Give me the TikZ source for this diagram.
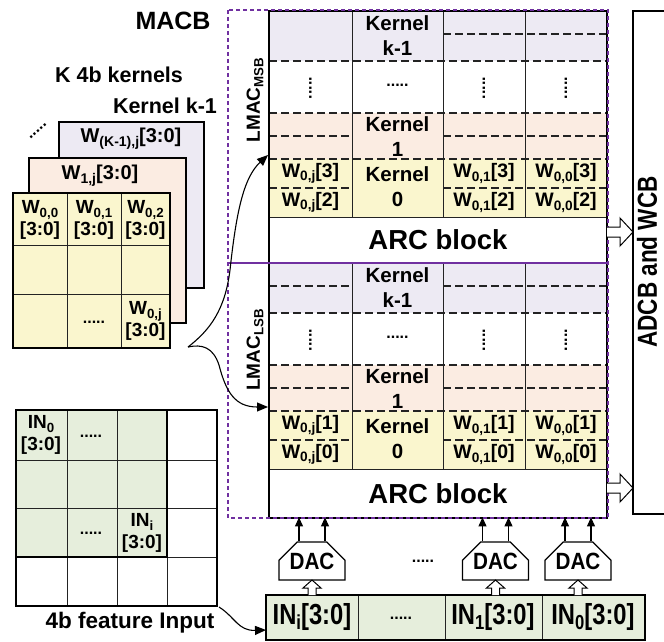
\documentclass[tikz,border=0pt]{standalone}
\usepackage{fontspec}
\setmainfont{Liberation Sans}
\newfontfamily\condA[FakeStretch=0.82]{Liberation Sans}
\newfontfamily\condB[FakeStretch=0.88]{Liberation Sans}
\usetikzlibrary{arrows.meta,shapes.misc}
\definecolor{lav}{RGB}{237,234,243}
\definecolor{pnk}{RGB}{251,236,226}
\definecolor{ylw}{RGB}{250,246,206}
\definecolor{grn}{RGB}{230,238,220}
\definecolor{purp}{RGB}{112,48,160}
\definecolor{dk}{RGB}{35,35,35}
\newcommand\sbs[1]{\raisebox{-0.35ex}{\scalebox{0.7}{#1}}}
\newcommand\fs[2]{\fontsize{#1}{#2}\selectfont}
\newcommand\lmacblock[6]{%
 \fill[lav] (269,11) rectangle (607,61);
 \fill[pnk] (269,113) rectangle (607,159);
 \fill[ylw] (269,159) rectangle (607,217);
 \draw[dsh] (269,61)--(607,61) (269,113)--(607,113) (269,159)--(607,159)
   (443,34)--(607,34) (269,136)--(352,136) (443,136)--(607,136)
   (269,188)--(352,188) (443,188)--(607,188);
 \ifnum#3=1 \draw[dsh] (269,34)--(352,34);\fi
 \draw[thn] (352,11)--(352,217) (443,11)--(443,217) (525,11)--(525,217) (269,217)--(607,217);
 \draw[line width=1.8pt] (269,11) rectangle (607,#2);
 \node[t20] (#1kk) at (397.5,36) {Kernel\\k-1};
 \node[t20] (#1k1) at (397.5,137) {Kernel\\1};
 \node[t20] (#1k0) at (397.5,187) {Kernel\\0};
 \node[tdots] (#1dm) at (397.5,85) {.....};
 \node[tdots,rotate=90] (#1da) at (310.5,88) {.....};
 \node[tdots,rotate=90] (#1db) at (484,88) {.....};
 \node[tdots,rotate=90] (#1dc) at (566,88) {.....};
 \node[t18] (#1ah) at (310.5,173.5) {W\sbs{0,j}[#4]};
 \node[t18] (#1al) at (310.5,202.5) {W\sbs{0,j}[#5]};
 \node[t18] (#1bh) at (484,173.5) {W\sbs{0,1}[#4]};
 \node[t18] (#1bl) at (484,202.5) {W\sbs{0,1}[#5]};
 \node[t18] (#1ch) at (566,173.5) {W\sbs{0,0}[#4]};
 \node[t18] (#1cl) at (566,202.5) {W\sbs{0,0}[#5]};
 \node[t27] (#1arc) at (438,#6) {ARC block};
}
\begin{document}
\begin{tikzpicture}[x=1pt,y=-1pt,
  t18/.style={inner sep=0, align=center, font=\bfseries\fs{19.5}{21}},
  t19/.style={inner sep=0, align=center, font=\bfseries\fs{19}{22}},
  t20/.style={inner sep=0, align=center, font=\bfseries\fs{20.5}{25}},
  t21/.style={inner sep=0, align=center, font=\bfseries\fs{21.5}{24}},
  t22/.style={inner sep=0, align=center, font=\bfseries\fs{22.5}{24}},
  tbar/.style={inner sep=0, align=center, font=\condA\bfseries\fs{29}{30}},
  t27/.style={inner sep=0, align=center, font=\bfseries\fs{27.5}{30}},
  tdots/.style={inner sep=0, font=\bfseries\fs{16}{16}},
  dsh/.style={draw=dk, line width=1.05pt, dash pattern=on 8pt off 4pt},
  thn/.style={draw=dk, line width=1pt},
  bld/.style={draw=black, line width=1.9pt},
  arr/.style={line width=1.1pt, -{Triangle[length=9pt,width=8pt]}},
  carr/.style={line width=1.1pt, -{Triangle[length=11pt,width=9pt]}},
  dacbox/.style={draw, line width=1.2pt, fill=white, chamfered rectangle,
    chamfered rectangle corners={north west,north east},
    chamfered rectangle xsep=11pt, chamfered rectangle ysep=10pt,
    minimum width=66pt, minimum height=38pt, inner sep=0,
    font=\condB\bfseries\fs{23.5}{24}},
]
\useasboundingbox (0,0) rectangle (664,642);
\clip (0,0) rectangle (664,642);

% ---------- top-left titles
\node[t22, font=\bfseries\fs{25}{26}] (macb) at (173,21) {MACB};
\node[t21] (k4b) at (119,75) {K 4b kernels};
\node[t21] (kk1) at (165,106) {Kernel k-1};
\node[tdots, rotate=40] (sdots) at (38,131) {.....};

% ---------- kernel stack
\draw[bld, fill=lav] (59,122) rectangle (204,288);
\node[t19, font=\bfseries\fs{20}{22}] (wk) at (131,139) {W\sbs{(K-1),j}[3:0]};
\draw[bld, fill=pnk] (29,158) rectangle (186,323);
\node[t19, font=\bfseries\fs{20}{22}] (w1) at (100,176) {W\sbs{1,j}[3:0]};
\fill[ylw] (13,193) rectangle (170,348);
\draw[thn] (67,193)--(67,348) (121,193)--(121,348) (13,245)--(170,245) (13,294)--(170,294);
\draw[bld] (13,193) rectangle (170,348);
\node[t19] (w00) at (40,220) {W\sbs{0,0}\\{[3:0]}};
\node[t19] (w01) at (94,220) {W\sbs{0,1}\\{[3:0]}};
\node[t19] (w02) at (145.5,220) {W\sbs{0,2}\\{[3:0]}};
\node[tdots] (wdd) at (94,322) {.....};
\node[t19] (w0j) at (145.5,321) {W\sbs{0,j}\\{[3:0]}};

% ---------- input grid
\fill[grn] (16,410) rectangle (167,557);
\draw[thn] (67,410)--(67,606) (117,410)--(117,606) (167,410)--(167,606)
  (16,460)--(217,460) (16,508)--(217,508) (16,557)--(217,557);
\draw[line width=1.4pt] (16,410) rectangle (167,557);
\draw[bld] (16,410) rectangle (217,606);
\node[t19] (in0) at (41,435) {IN\sbs{0}\\{[3:0]}};
\node[tdots] (ind1) at (91,436) {.....};
\node[tdots] (ind2) at (91,533) {.....};
\node[t19] (ini) at (142,533) {IN\sbs{i}\\{[3:0]}};
\node[t22] (fin) at (130,623) {4b feature Input};

% ---------- MACB blocks
\lmacblock{u}{263}{0}{3}{2}{240}
\begin{scope}[shift={(0,252)}]
\lmacblock{l}{266}{1}{1}{0}{242}
\end{scope}
\node[t19, rotate=90] (lmsb) at (255,100) {LMAC\sbs{MSB}};
\node[t19, rotate=90] (llsb) at (255,350) {LMAC\sbs{LSB}};
\draw[purp, line width=1.6pt, dash pattern=on 4pt off 3pt] (228,10) rectangle (608,518);
\draw[purp, line width=2pt] (228,263) -- (608,263);

% ---------- ADCB and WCB
\draw[line width=1.5pt, fill=white] (633,11) rectangle (700,514);
\node[inner sep=0, font=\condA\bfseries\fs{27.5}{28}, rotate=90] (adcb) at (647,262) {ADCB and WCB};
\coordinate (ho1) at (607,232);
\coordinate (ho2) at (607,488);
\foreach \c in {ho1,ho2}{
  \draw[line width=1pt, fill=white] (\c) ++(0,-5) -- ++(13,0) -- ++(0,-9) -- ++(13,14)
    -- ++(-13,14) -- ++(0,-9) -- ++(-13,0);
}

% ---------- DACs
\node[dacbox] (dac1) at (312,561) {DAC};
\node[dacbox] (dac2) at (495.5,561) {DAC};
\node[dacbox] (dac3) at (578,561) {DAC};
\node[tdots] (dacd) at (423,561) {.....};
\foreach \d in {dac1,dac2,dac3}{
  \draw[arr] ([xshift=-13pt]\d.north) -- ++(0,-24);
  \draw[arr] ([xshift=13pt]\d.north) -- ++(0,-24);
}

% ---------- input bar
\fill[grn] (266,595) rectangle (645,640);
\draw[thn] (358,595)--(358,640) (445,595)--(445,640) (542,595)--(542,640);
\draw[bld] (266,595) rectangle (645,640);
\node[tbar] (bi) at (312,617) {IN\sbs{i}[3:0]};
\node[tdots] (bd) at (401,618) {.....};
\node[tbar] (b1) at (493,617) {IN\sbs{1}[3:0]};
\node[tbar] (b0) at (593,617) {IN\sbs{0}[3:0]};
\foreach \d in {dac1,dac2,dac3}{
  \draw[line width=1pt, fill=white] (\d.south |- 0,595) ++(-4,0) -- ++(0,-7) -- ++(-5,0)
    -- ++(9,-8) -- ++(9,8) -- ++(-5,0) -- ++(0,7);
}

% ---------- curved connectors
\coordinate (fork) at (188,347);
\coordinate (msbin) at (268,155);
\coordinate (lsbin) at (268,407);
\coordinate (gridc) at (219,607);
\coordinate (barin) at (266,630);
\draw[carr] (fork) .. controls (210,330) and (225,310) .. (230,270)
  .. controls (236,215) and (243,178) .. (msbin);
\draw[carr] (fork) .. controls (202,344) and (213,347) .. (219,365)
  .. controls (226,392) and (235,407) .. (lsbin);
\draw[carr] (gridc) .. controls (235,617) and (238,631) .. (barin);
\end{tikzpicture}
\end{document}
